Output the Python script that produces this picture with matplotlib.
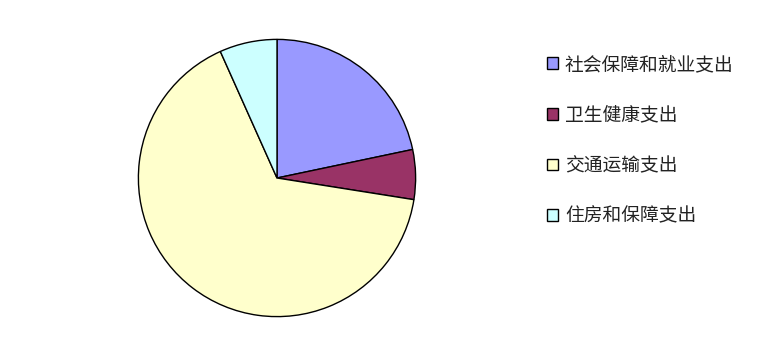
import matplotlib
matplotlib.use("Agg")
from matplotlib import pyplot as plt
from matplotlib.patches import Patch

plt.rcParams['font.family'] = ['Noto Sans CJK SC', 'DejaVu Sans']

labels = ['社会保障和就业支出', '卫生健康支出', '交通运输支出', '住房和保障支出']
shares = [21.7, 5.8, 65.8, 6.7]
colors = ['#9999FF', '#993366', '#FFFFCC', '#CCFFFF']

W, H = 771, 357
fig = plt.figure(figsize=(W / 100, H / 100), dpi=100)

# pie axes: centre (277,178), radius 140 px
cx, cy, r = 277, 178, 140
ax = fig.add_axes([(cx - r) / W, (H - cy - r) / H, 2 * r / W, 2 * r / H])
ax.pie(shares, colors=colors, startangle=90, counterclock=False, radius=1,
       wedgeprops=dict(edgecolor='black', linewidth=1.0))
ax.set_xlim(-1.01, 1.01)
ax.set_ylim(-1.01, 1.01)
ax.set_aspect('equal')
ax.axis('off')

handles = [Patch(facecolor=c, edgecolor='black', linewidth=1.0) for c in colors]
leg = fig.legend(handles, labels, loc='upper left', bbox_to_anchor=(530 / W, 1 - 37 / H),
                 frameon=False, fontsize=13.5, labelspacing=1.58,
                 handlelength=0.59, handleheight=0.59, handletextpad=0.37)
for t in leg.get_texts():
    t.set_color('#222222')

fig.savefig('out.png', dpi=100)
